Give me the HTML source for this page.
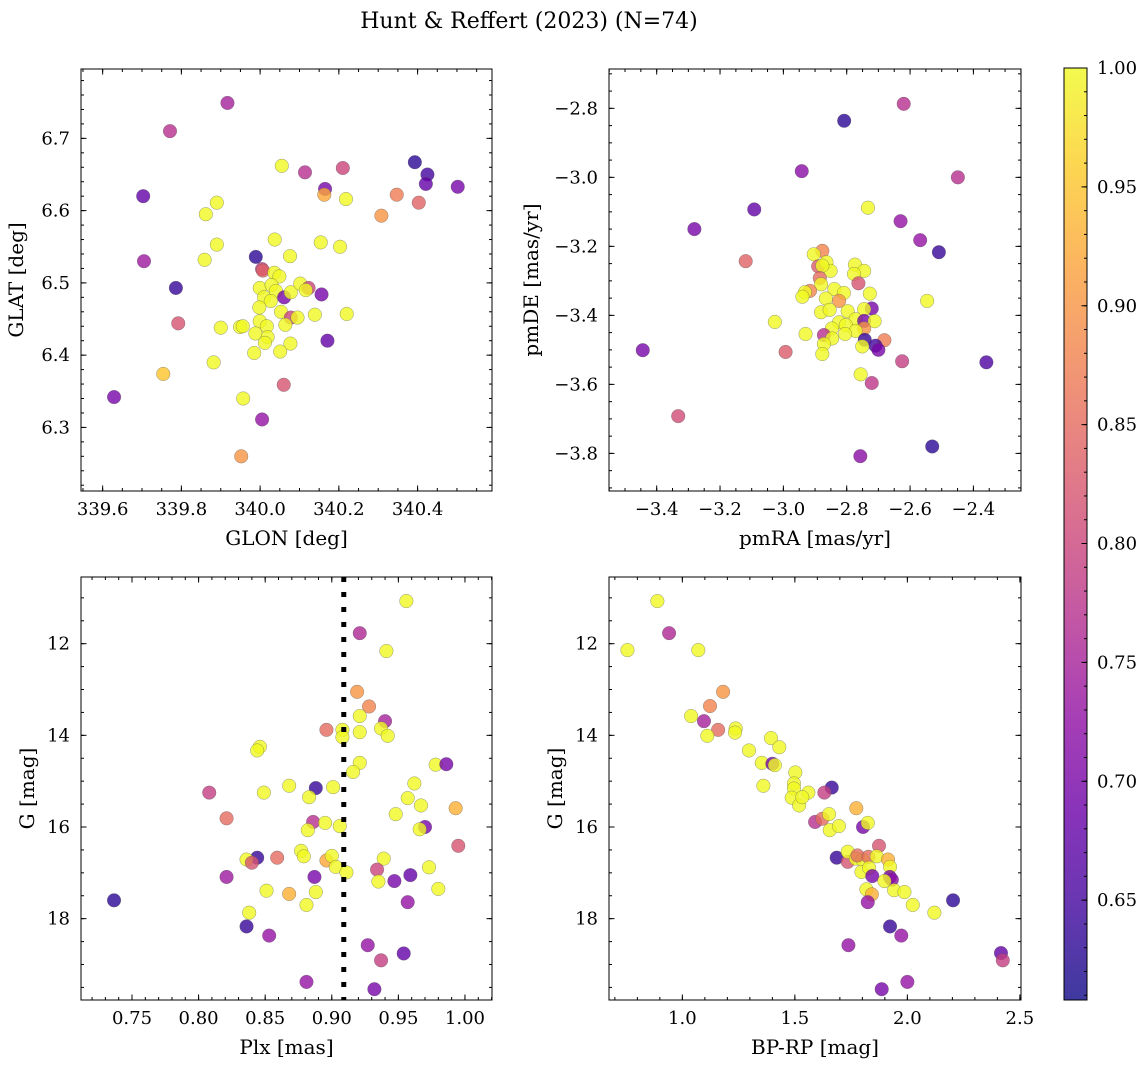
<!DOCTYPE html>
<html><head><meta charset="utf-8"><style>
html,body{margin:0;padding:0;background:#fff;}
svg{display:block;font-family:"DejaVu Serif","Liberation Serif",serif;}
</style></head><body>
<svg id="fig" width="1148" height="1068" viewBox="0 0 1148 1068" xmlns="http://www.w3.org/2000/svg">
<rect x="0" y="0" width="1148" height="1068" fill="#fff"/>
<text x="529" y="28" font-size="22" text-anchor="middle" fill="#000">Hunt &amp; Reffert (2023) (N=74)</text>
</svg>
<script>
const tlLon=[339.917,339.771,340.055,340.114,340.210,340.393,340.425,340.421,340.502,340.165,340.163,340.218,340.347,340.403,340.308,339.703,339.890,339.862,340.037,340.154,340.203,339.890,339.859,340.076,339.705,339.989,340.005,340.007,339.786,340.036,340.049,339.999,340.029,340.040,340.061,340.078,340.102,340.123,340.116,340.156,340.010,340.027,339.998,340.053,340.078,340.095,340.139,340.220,339.792,339.900,339.949,339.956,339.999,340.017,339.988,340.019,340.012,340.064,340.077,340.051,339.985,340.171,339.882,339.754,340.060,339.629,339.957,340.005,339.952];
const tlLat=[6.749,6.710,6.662,6.653,6.659,6.667,6.650,6.637,6.633,6.630,6.622,6.616,6.622,6.611,6.593,6.620,6.611,6.595,6.560,6.556,6.550,6.553,6.532,6.537,6.530,6.536,6.519,6.517,6.493,6.514,6.509,6.493,6.497,6.489,6.480,6.487,6.499,6.493,6.490,6.484,6.480,6.475,6.466,6.460,6.452,6.452,6.456,6.457,6.444,6.438,6.439,6.440,6.447,6.440,6.430,6.425,6.417,6.442,6.416,6.405,6.403,6.420,6.390,6.374,6.359,6.342,6.340,6.311,6.260];
const tlProb=[0.75,0.77,1,0.77,0.80,0.63,0.65,0.68,0.70,0.70,0.92,1,0.87,0.84,0.90,0.68,1,1,1,1,1,1,1,1,0.74,0.63,0.78,0.84,0.64,1,1,1,1,1,0.70,1,1,0.80,1,0.70,1,1,1,1,0.80,1,1,1,0.82,1,1,1,1,1,1,1,1,1,1,1,1,0.68,1,0.95,0.82,0.70,1,0.73,0.90];

const trPmra=[-2.620,-2.808,-2.942,-2.449,-3.092,-3.281,-2.733,-2.630,-2.568,-2.509,-3.119,-2.877,-2.904,-2.890,-2.864,-2.851,-2.877,-2.774,-2.745,-2.777,-2.763,-2.885,-2.881,-2.916,-2.932,-2.940,-2.839,-2.809,-2.727,-2.866,-2.824,-2.546,-2.881,-2.854,-2.797,-2.721,-2.745,-2.772,-2.745,-2.712,-3.027,-2.824,-2.803,-2.745,-2.772,-2.847,-2.930,-2.872,-2.805,-2.846,-2.743,-2.681,-2.709,-2.700,-2.751,-2.872,-2.877,-2.993,-3.444,-2.625,-2.359,-2.756,-2.721,-3.332,-2.530,-2.757];
const trPmde=[-2.787,-2.836,-2.982,-3.000,-3.093,-3.150,-3.088,-3.127,-3.182,-3.217,-3.243,-3.213,-3.223,-3.258,-3.246,-3.271,-3.256,-3.253,-3.271,-3.280,-3.307,-3.292,-3.310,-3.329,-3.333,-3.346,-3.324,-3.335,-3.337,-3.351,-3.358,-3.358,-3.391,-3.384,-3.388,-3.380,-3.382,-3.411,-3.416,-3.417,-3.419,-3.420,-3.428,-3.438,-3.445,-3.438,-3.454,-3.457,-3.454,-3.467,-3.471,-3.472,-3.488,-3.500,-3.490,-3.483,-3.512,-3.506,-3.501,-3.533,-3.536,-3.571,-3.596,-3.692,-3.780,-3.808];
const trProb=[0.77,0.63,0.72,0.77,0.68,0.70,1,0.73,0.73,0.64,0.84,0.88,1,0.83,1,1,1,1,1,1,0.82,0.85,1,0.88,1,1,1,1,1,1,0.90,1,1,1,1,0.70,1,1,0.70,1,1,1,1,0.90,1,1,1,0.77,1,1,0.64,0.87,0.65,0.70,1,1,1,0.83,0.70,0.79,0.66,1,0.78,0.81,0.63,0.72];

const blPlx=[0.956,0.921,0.941,0.919,0.928,0.921,0.940,0.896,0.908,0.908,0.921,0.937,0.942,0.846,0.844,0.921,0.916,0.978,0.986,0.962,0.808,0.849,0.868,0.888,0.883,0.901,0.957,0.967,0.993,0.948,0.821,0.886,0.882,0.895,0.906,0.970,0.966,0.995,0.877,0.879,0.844,0.836,0.840,0.859,0.896,0.900,0.903,0.911,0.939,0.934,0.935,0.947,0.959,0.973,0.980,0.821,0.887,0.888,0.851,0.868,0.881,0.957,0.7365,0.838,0.836,0.853,0.927,0.954,0.937,0.881,0.932];
const blG=[11.07,11.77,12.16,13.05,13.37,13.58,13.69,13.88,13.88,14.04,13.93,13.85,14.01,14.25,14.33,14.60,14.80,14.64,14.63,15.05,15.25,15.25,15.10,15.15,15.35,15.13,15.37,15.53,15.59,15.72,15.81,15.89,16.07,15.91,15.98,16.00,16.05,16.41,16.52,16.64,16.67,16.71,16.78,16.67,16.73,16.63,16.87,16.99,16.69,16.93,17.19,17.18,17.05,16.88,17.35,17.09,17.09,17.42,17.39,17.46,17.70,17.64,17.60,17.87,18.17,18.37,18.58,18.76,18.91,19.38,19.54];
const blProb=[1,0.76,1,0.90,0.88,1,0.75,0.85,1,1,1,1,1,1,1,1,1,1,0.70,1,0.79,1,1,0.64,1,1,1,1,0.93,1,0.85,0.77,1,1,1,0.70,1,0.82,1,1,0.64,1,0.82,0.85,0.92,1,1,1,1,0.80,1,0.70,0.68,1,1,0.74,0.70,1,1,0.93,1,0.73,0.63,1,0.64,0.73,0.73,0.68,0.79,0.73,0.70];
const plxCut=[0.909];

const brBpRp=[0.889,0.941,0.756,1.071,1.181,1.123,1.039,1.096,1.159,1.111,1.237,1.234,1.296,1.394,1.431,1.353,1.400,1.411,1.360,1.502,1.496,1.496,1.486,1.519,1.560,1.533,1.664,1.631,1.773,1.590,1.622,1.652,1.655,1.696,1.803,1.824,1.874,1.686,1.735,1.735,1.771,1.800,1.778,1.827,1.864,1.914,1.923,1.796,1.830,1.844,1.922,1.931,1.898,1.818,1.842,1.941,1.987,1.824,2.024,2.120,2.203,1.923,1.973,1.738,2.416,2.424,2.000,1.886];
const brG=[11.07,11.77,12.14,12.14,13.05,13.36,13.58,13.69,13.88,14.01,13.85,13.94,14.33,14.06,14.26,14.60,14.62,14.65,15.10,14.81,15.05,15.16,15.36,15.53,15.25,15.35,15.14,15.25,15.59,15.89,15.82,15.72,16.07,15.98,16.00,15.91,16.41,16.67,16.76,16.54,16.69,16.71,16.62,16.65,16.64,16.71,16.87,16.98,16.89,17.07,17.09,17.15,17.18,17.36,17.47,17.38,17.42,17.64,17.70,17.87,17.60,18.17,18.37,18.58,18.75,18.91,19.38,19.54];
const brProb=[1,0.76,1,1,0.90,0.88,1,0.75,0.85,1,1,1,1,1,1,1,0.70,1,1,1,1,1,1,1,1,1,0.64,0.79,0.93,0.77,0.85,1,1,1,0.70,1,0.82,0.64,0.82,1,1,1,0.85,0.85,1,0.93,1,1,1,0.70,0.70,0.72,1,1,0.93,1,1,0.73,1,1,0.63,0.64,0.73,0.73,0.68,0.79,0.73,0.70];

const cbarRange=[0.608,1.0];

const NS="http://www.w3.org/2000/svg";
const svg=document.getElementById('fig');
const plasma=["#0d0887","#41049d","#6a00a8","#8f0da4","#b12a90","#cc4778","#e16462","#f2844b","#fca636","#fcce25","#f0f921"];
function hex(h){return [parseInt(h.substr(1,2),16),parseInt(h.substr(3,2),16),parseInt(h.substr(5,2),16)];}
function cmap(t){t=Math.max(0,Math.min(1,t));const f=t*10;const i=Math.min(9,Math.floor(f));const r=f-i;const a=hex(plasma[i]),b=hex(plasma[i+1]);
  return 'rgb('+a.map((v,k)=>Math.round(v+(b[k]-v)*r)).join(',')+')';}
function colorOf(v){return cmap((v-cbarRange[0])/(cbarRange[1]-cbarRange[0]));}
function mk(tag,attrs,parent){const e=document.createElementNS(NS,tag);for(const k in attrs)e.setAttribute(k,attrs[k]);(parent||svg).appendChild(e);return e;}
function tickVals(a,b,step){const lo=Math.min(a,b),hi=Math.max(a,b);const out=[];let k=Math.ceil(lo/step-1e-9);while(k*step<=hi+1e-9){out.push(+(k*step).toFixed(6));k++;}return out;}
function fmt(v,d){const s=Math.abs(v).toFixed(d);return (v<-1e-9?'\u2212':'')+s;}

function panel(o){
  const g=mk('g',{});
  
  
  const sx=v=>o.x0+(v-o.xd[0])/(o.xd[1]-o.xd[0])*(o.x1-o.x0);
  const sy=v=>o.y0+(v-o.yd[0])/(o.yd[1]-o.yd[0])*(o.y1-o.y0);
  const pg=mk('g',{},g);
  
  
  for(let i=0;i<o.xs.length;i++){
    const c=mk('circle',{cx:sx(o.xs[i]).toFixed(2),cy:sy(o.ys[i]).toFixed(2),r:6.8,fill:colorOf(o.cs[i]),'fill-opacity':0.8,stroke:'#555','stroke-opacity':0.6,'stroke-width':0.5},pg);
    
    
  }
  if(o.vline){
    const l=mk('line',{x1:sx(o.vline),x2:sx(o.vline),y1:o.y0,y2:o.y1,stroke:'#000','stroke-width':5,'stroke-dasharray':'5 10'},g);
    
    
  }
  const fr=mk('rect',{x:o.x0,y:o.y0,width:o.x1-o.x0,height:o.y1-o.y0,fill:'none',stroke:'#000','stroke-width':1},g);
  
  
  const tg=mk('g',{stroke:'#000','stroke-width':1},g);
  
  
  tickVals(o.xd[0],o.xd[1],o.xminor).forEach(v=>{const x=sx(v);mk('line',{x1:x,x2:x,y1:o.y1,y2:o.y1-3},tg);mk('line',{x1:x,x2:x,y1:o.y0,y2:o.y0+3},tg);});
  tickVals(o.yd[0],o.yd[1],o.yminor).forEach(v=>{const y=sy(v);mk('line',{x1:o.x0,x2:o.x0+3,y1:y,y2:y},tg);mk('line',{x1:o.x1,x2:o.x1-3,y1:y,y2:y},tg);});
  const lg=mk('g',{'font-size':18,fill:'#000'},g);
  
  
  tickVals(o.xd[0],o.xd[1],o.xmajor).forEach(v=>{const x=sx(v);mk('line',{x1:x,x2:x,y1:o.y1,y2:o.y1-5.5},tg);mk('line',{x1:x,x2:x,y1:o.y0,y2:o.y0+5.5},tg);
    const t=mk('text',{x:x,y:o.y1+24,'text-anchor':'middle'},lg);t.textContent=fmt(v,o.xdec);});
  tickVals(o.yd[0],o.yd[1],o.ymajor).forEach(v=>{const y=sy(v);mk('line',{x1:o.x0,x2:o.x0+5.5,y1:y,y2:y},tg);mk('line',{x1:o.x1,x2:o.x1-5.5,y1:y,y2:y},tg);
    const t=mk('text',{x:o.x0-11,y:y+6,'text-anchor':'end'},lg);t.textContent=fmt(v,o.ydec);});
  const xl=mk('text',{x:(o.x0+o.x1)/2,y:o.y1+54,'text-anchor':'middle','font-size':20},g);xl.textContent=o.xlabel;
  
  
  const yl=mk('text',{x:0,y:0,'text-anchor':'middle','font-size':20,transform:'translate('+o.ylx+','+((o.y0+o.y1)/2)+') rotate(-90)'},g);yl.textContent=o.ylabel;
  
  
}

panel({name:'glon-glat-panel',x0:81,x1:492,y0:69,y1:491,xd:[339.545,340.589],yd:[6.796,6.212],xs:tlLon,ys:tlLat,cs:tlProb,xmajor:0.2,xminor:0.05,ymajor:0.1,yminor:0.02,xdec:1,ydec:1,xlabel:'GLON [deg]',ylabel:'GLAT [deg]',ylx:23});
panel({name:'proper-motion-panel',x0:609,x1:1021,y0:69,y1:491,xd:[-3.5506,-2.2497],yd:[-2.686,-3.909],xs:trPmra,ys:trPmde,cs:trProb,xmajor:0.2,xminor:0.05,ymajor:0.2,yminor:0.05,xdec:1,ydec:1,xlabel:'pmRA [mas/yr]',ylabel:'pmDE [mas/yr]',ylx:538});
panel({name:'parallax-panel',x0:81,x1:492,y0:577,y1:1000,xd:[0.7117,1.0203],yd:[10.545,19.775],xs:blPlx,ys:blG,cs:blProb,xmajor:0.05,xminor:0.01,ymajor:2,yminor:0.5,xdec:2,ydec:0,xlabel:'Plx [mas]',ylabel:'G [mag]',ylx:34,vline:plxCut[0]});
panel({name:'cmd-panel',x0:609,x1:1021,y0:577,y1:1000,xd:[0.674,2.505],yd:[10.545,19.775],xs:brBpRp,ys:brG,cs:brProb,xmajor:0.5,xminor:0.1,ymajor:2,yminor:0.5,xdec:1,ydec:0,xlabel:'BP-RP [mag]',ylabel:'G [mag]',ylx:562});

(function(){
  const x0=1064,x1=1087,y0=68,y1=1000;
  const defs=mk('defs',{});
  const lgd=mk('linearGradient',{id:'cbg',x1:0,y1:1,x2:0,y2:0},defs);
  for(let i=0;i<=20;i++){mk('stop',{offset:(i/20),'stop-color':cmap(i/20),'stop-opacity':0.8},lgd);}
  const g=mk('g',{});
  
  
  mk('rect',{x:x0,y:y0,width:x1-x0,height:y1-y0,fill:'url(#cbg)',stroke:'#000','stroke-width':1},g);
  const sy=v=>y1-(v-cbarRange[0])/(cbarRange[1]-cbarRange[0])*(y1-y0);
  tickVals(cbarRange[0],cbarRange[1],0.01).forEach(v=>{const y=sy(v);mk('line',{x1:x1,x2:x1-3,y1:y,y2:y,stroke:'#000','stroke-width':1},g);});
  tickVals(cbarRange[0],cbarRange[1],0.05).forEach(v=>{const y=sy(v);mk('line',{x1:x1,x2:x1-5.5,y1:y,y2:y,stroke:'#000','stroke-width':1},g);
    const t=mk('text',{x:x1+10,y:y+6,'font-size':18,fill:'#000'},g);t.textContent=v.toFixed(2);
    
    });
})();
</script>
</body></html>
